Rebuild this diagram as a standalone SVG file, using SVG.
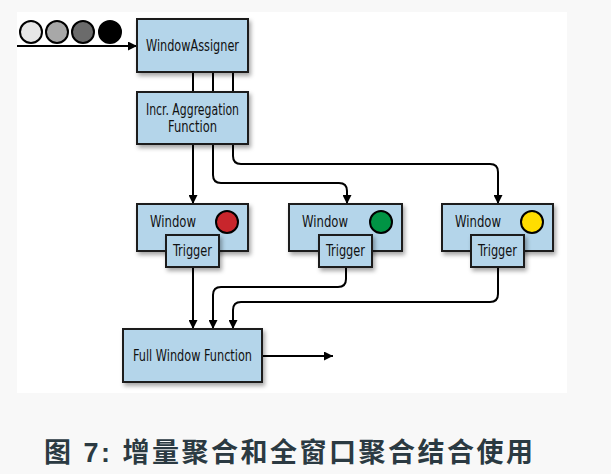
<svg xmlns="http://www.w3.org/2000/svg" width="611" height="474" viewBox="0 0 611 474">
<style>
.box{fill:#b4d5ea;stroke:#1a1a1a;stroke-width:2}
.lbl{font-family:"Liberation Sans Narrow","DejaVu Sans Condensed","Liberation Sans",sans-serif;font-size:15px;fill:#111}
.con{fill:none;stroke:#000;stroke-width:2}
.dot{stroke:#000;stroke-width:2}
.cap{font-family:"Liberation Sans","Noto Sans CJK SC",sans-serif;font-weight:bold;font-size:27px;fill:#2b3a42;letter-spacing:2.5px}
</style>
<defs>
<filter id="sh" x="-10%" y="-10%" width="130%" height="140%">
<feDropShadow dx="2" dy="3" stdDeviation="2" flood-color="#000" flood-opacity="0.35"/>
</filter>
<marker id="ah" viewBox="0 0 10 10" refX="10" refY="5" markerWidth="9" markerHeight="9" markerUnits="userSpaceOnUse" orient="auto">
<path d="M0,0 L10,5 L0,10 z" fill="#000"/>
</marker>
</defs>
<rect x="0" y="0" width="611" height="474" fill="#f8f8f8"/>
<rect x="17" y="12" width="550" height="381" fill="#ffffff"/>

<g id="connectors">
<path class="con" d="M17 46 H137" marker-end="url(#ah)"/>
<path class="con" d="M193 72 V92 M213 72 V92 M233 72 V92"/>
<path class="con" d="M193 144 V204" marker-end="url(#ah)"/>
<path class="con" d="M213 144 V175 Q213 183 221 183 H339 Q347 183 347 191 V204" marker-end="url(#ah)"/>
<path class="con" d="M233 144 V156 Q233 164 241 164 H490 Q498 164 498 172 V204" marker-end="url(#ah)"/>
<path class="con" d="M193 267 V329" marker-end="url(#ah)"/>
<path class="con" d="M346 267 V279 Q346 287 338 287 H221 Q213 287 213 295 V329" marker-end="url(#ah)"/>
<path class="con" d="M498 267 V294 Q498 302 490 302 H241 Q233 302 233 310 V329" marker-end="url(#ah)"/>
<path class="con" d="M262 356 H333" marker-end="url(#ah)"/>
</g>

<g id="events">
<circle class="dot" cx="31" cy="32" r="11" fill="#e6e6e6"/>
<circle class="dot" cx="57" cy="32" r="11" fill="#a8a8a8"/>
<circle class="dot" cx="83" cy="32" r="11" fill="#6b6b6b"/>
<circle class="dot" cx="110" cy="32" r="11" fill="#000"/>
</g>

<g id="window-assigner">
<rect class="box" x="137" y="19" width="111" height="53" filter="url(#sh)"/>
<text class="lbl" x="192.5" y="51" text-anchor="middle" textLength="93" lengthAdjust="spacingAndGlyphs">WindowAssigner</text>
</g>

<g id="incr-agg">
<rect class="box" x="137" y="92" width="111" height="52" filter="url(#sh)"/>
<text class="lbl" x="192.5" y="115" text-anchor="middle" textLength="93" lengthAdjust="spacingAndGlyphs">Incr. Aggregation</text>
<text class="lbl" x="192.5" y="132" text-anchor="middle" textLength="49" lengthAdjust="spacingAndGlyphs">Function</text>
</g>

<g id="window1">
<rect class="box" x="137" y="204" width="111" height="47" filter="url(#sh)"/>
<text class="lbl" x="150" y="227" textLength="46" lengthAdjust="spacingAndGlyphs">Window</text>
<circle class="dot" cx="227" cy="222" r="11" fill="#c8262c"/>
<rect class="box" x="166" y="235" width="53" height="32" filter="url(#sh)"/>
<text class="lbl" x="192.5" y="256" text-anchor="middle" textLength="39" lengthAdjust="spacingAndGlyphs">Trigger</text>
</g>

<g id="window2">
<rect class="box" x="289" y="204" width="113" height="47" filter="url(#sh)"/>
<text class="lbl" x="302" y="227" textLength="46" lengthAdjust="spacingAndGlyphs">Window</text>
<circle class="dot" cx="381" cy="222" r="11" fill="#009444"/>
<rect class="box" x="319" y="235" width="53" height="32" filter="url(#sh)"/>
<text class="lbl" x="345.5" y="256" text-anchor="middle" textLength="39" lengthAdjust="spacingAndGlyphs">Trigger</text>
</g>

<g id="window3">
<rect class="box" x="442" y="204" width="111" height="47" filter="url(#sh)"/>
<text class="lbl" x="455" y="227" textLength="46" lengthAdjust="spacingAndGlyphs">Window</text>
<circle class="dot" cx="532" cy="222" r="11" fill="#ffdd00"/>
<rect class="box" x="471" y="235" width="53" height="32" filter="url(#sh)"/>
<text class="lbl" x="497.5" y="256" text-anchor="middle" textLength="39" lengthAdjust="spacingAndGlyphs">Trigger</text>
</g>

<g id="full-window-function">
<rect class="box" x="123" y="329" width="139" height="53" filter="url(#sh)"/>
<text class="lbl" x="192.5" y="361" text-anchor="middle" textLength="119" lengthAdjust="spacingAndGlyphs">Full Window Function</text>
</g>

<text class="cap" x="44" y="462">图 7: 增量聚合和全窗口聚合结合使用</text>
</svg>
